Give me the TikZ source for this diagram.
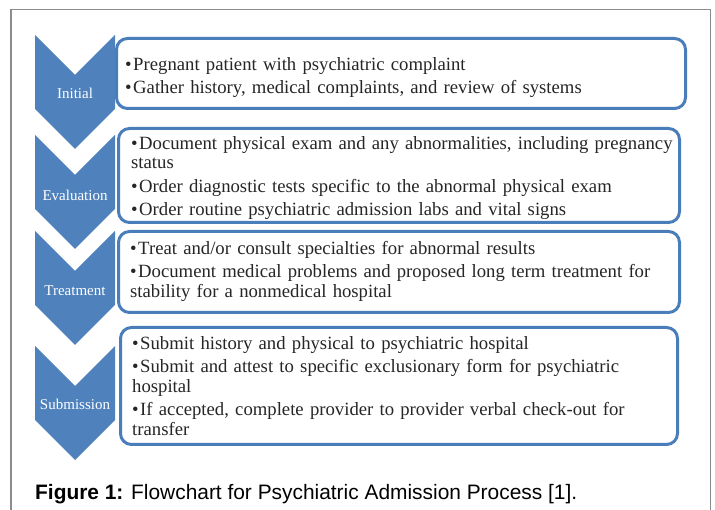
\documentclass[tikz,border=0pt]{standalone}
\usepackage{fontspec}
\setmainfont{Liberation Serif}
\newfontfamily\capfont{Liberation Sans}
\definecolor{chevblue}{HTML}{4F81BD}
\definecolor{boxblue}{HTML}{4A7EBB}
\definecolor{txt}{HTML}{262626}
\definecolor{framegray}{HTML}{8C8C8C}
\newlength{\bulw}
\newcommand{\bitem}[1]{\par\settowidth{\bulw}{\textbullet\kern1.5pt}\hangindent=\bulw\hangafter=1\noindent\strut\textbullet\kern1.5pt#1}
\tikzset{
  chev/.style={fill=chevblue},
  chevlabel/.style={text=white, font=\fontsize{15}{18}\selectfont, inner sep=0pt},
  stagebox/.style={draw=boxblue, line width=3pt, fill=white, rounded corners=11pt},
  boxtext/.style={text=txt, inner sep=0pt, anchor=north west, text width=560pt, align=left,
    font=\fontsize{18.7}{19.7}\selectfont, execute at begin node={\setlength{\parskip}{3.6pt}}},
}
\begin{document}
\begin{tikzpicture}[x=1pt,y=-1pt]
\useasboundingbox (0,0) rectangle (715,510);
\fill[white] (0,0) rectangle (715,510);
\draw[framegray, line width=1.2pt] (11,515) -- (11,9.5) -- (710.5,9.5) -- (710.5,515);

\foreach \t/\lab/\ly/\nm in {35/Initial/93/c1, 135/Evaluation/195/c2, 231/Treatment/291/c3, 346/Submission/404/c4} {
  \fill[chev] (35,\t) -- (75,\t+40) -- (115,\t) -- (115,\t+74) -- (75,\t+114) -- (35,\t+74) -- cycle;
  \node[chevlabel] (\nm) at (75,\ly) {\lab};
}

\draw[stagebox] (116.5,38.5) rectangle (685.5,108.5);
\draw[stagebox] (118.5,128.5) rectangle (679.5,222.5);
\draw[stagebox] (118.5,231.5) rectangle (679.5,312.5);
\draw[stagebox] (120.5,327.5) rectangle (677.5,444.5);

\node[boxtext] (t1) at (125,46.7) {\bitem{Pregnant patient with psychiatric complaint}\bitem{Gather history, medical complaints, and review of systems}};
\node[boxtext] (t2) at (131,125.7) {\bitem{Document physical exam and any abnormalities, including pregnancy\\status}\bitem{Order diagnostic tests specific to the abnormal physical exam}\bitem{Order routine psychiatric admission labs and vital signs}};
\node[boxtext] (t3) at (130,231.2) {\bitem{Treat and/or consult specialties for abnormal results}\bitem{Document medical problems and proposed long term treatment for\\stability for a nonmedical hospital}};
\node[boxtext] (t4) at (132,325.7) {\bitem{Submit history and physical to psychiatric hospital}\bitem{Submit and attest to specific exclusionary form for psychiatric\\hospital}\bitem{If accepted, complete provider to provider verbal check-out for\\transfer}};

\node[anchor=base west, inner sep=0pt, text=black, font=\capfont\fontsize{20.9}{25}\selectfont] (cap) at (35,499) {\textbf{Figure 1:} Flowchart for Psychiatric Admission Process [1].};
\end{tikzpicture}
\end{document}
